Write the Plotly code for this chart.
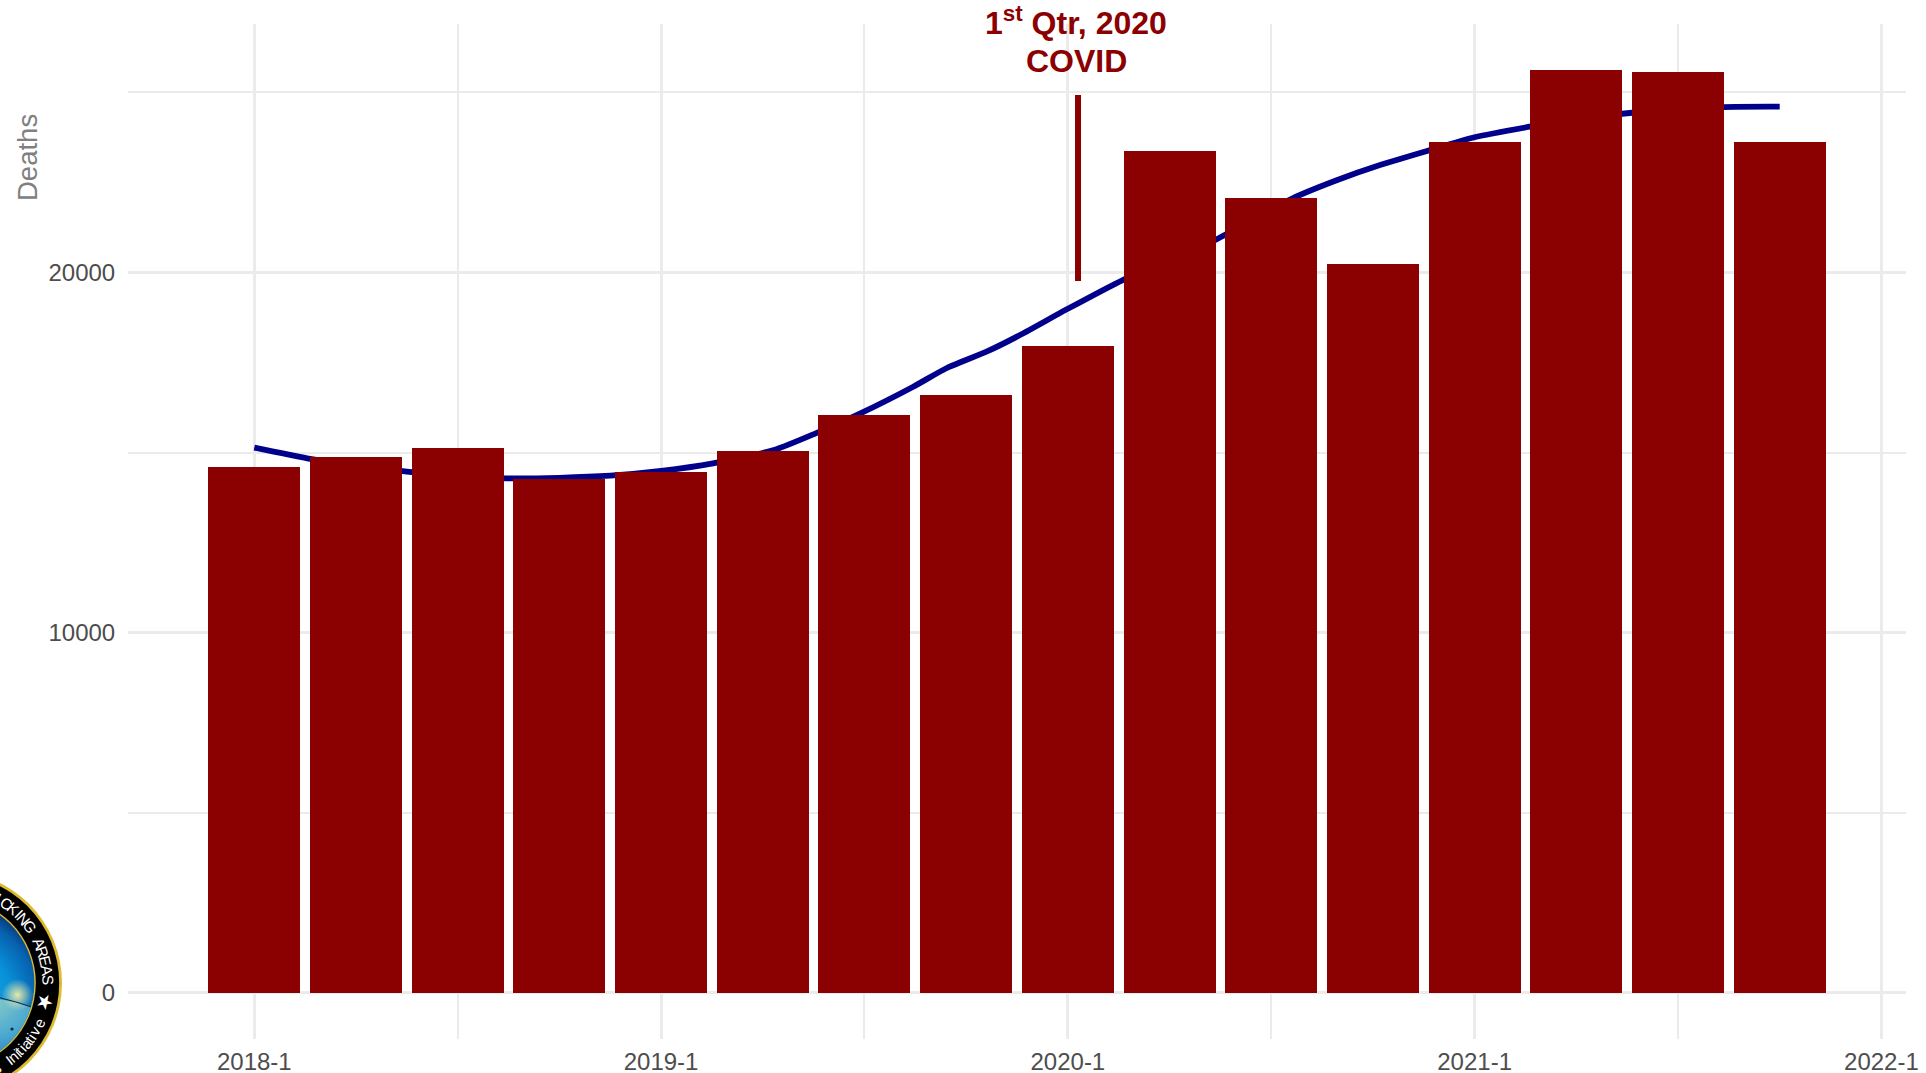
import base64
import math
import plotly.graph_objects as go

quarters = ["2018-1", "2018-2", "2018-3", "2018-4", "2019-1", "2019-2", "2019-3", "2019-4",
            "2020-1", "2020-2", "2020-3", "2020-4", "2021-1", "2021-2", "2021-3", "2021-4"]
deaths = [14610, 14880, 15120, 14270, 14470, 15050, 16040, 16590,
          17950, 23370, 22060, 20230, 23620, 25620, 25560, 23620]
quarter_index = list(range(len(quarters)))

trend_index = [0, 0.52, 1, 1.5, 2, 2.48, 3, 3.5, 4, 4.51, 5.11, 5.52, 5.96, 6.48, 6.81, 7.2,
               7.53, 7.99, 8.54, 9, 9.45, 10.21, 10.65, 11.07, 11.54, 11.98, 12.54, 13, 13.55, 14.45, 15]
trend_deaths = [15135, 14840, 14640, 14470, 14340, 14285, 14300, 14357, 14490, 14700, 15071, 15534,
                16088, 16828, 17347, 17800, 18262, 18976, 19789, 20340, 20900, 22056, 22565, 22980,
                23378, 23739, 24044, 24250, 24432, 24590, 24600]

covid_x = [8.1, 8.1]
covid_y = [19760, 24925]

x_major = [0, 4, 8, 12, 16]
x_major_labels = ["2018-1", "2019-1", "2020-1", "2021-1", "2022-1"]
y_major = [0, 10000, 20000]

W, H = 1926, 1073
L, R, T, B = 128, 1906, 24, 1039
X_RANGE = [-1.242, 16.242]
Y_RANGE = [-1277, 26895]
GRID = "#EBEBEB"
RED = "#8B0000"
FONT = "Liberation Sans"


def xp(px):
    return (px - L) / (R - L)


def yp(py):
    return (B - py) / (B - T)


fig = go.Figure()
fig.add_trace(go.Scatter(x=trend_index, y=trend_deaths, mode="lines",
                         line=dict(color="#00008B", width=5.8, shape="spline", smoothing=0.6),
                         hoverinfo="skip", showlegend=False))
fig.add_trace(go.Scatter(x=covid_x, y=covid_y, mode="lines", line=dict(color=RED, width=6),
                         hoverinfo="skip", showlegend=False))
fig.add_trace(go.Bar(x=quarter_index, y=deaths, width=0.905, marker=dict(color=RED, line=dict(width=0)),
                     xaxis="x2", yaxis="y2", showlegend=False, customdata=quarters))

# Seal in the lower-left corner
CX, CY, RAD = -49.6, 983, 111.6
svg = f'''<svg xmlns="http://www.w3.org/2000/svg" width="240" height="240" viewBox="0 0 240 240">
<defs>
<radialGradient id="sky" cx="0.5" cy="0.62" r="0.62"><stop offset="0" stop-color="#3fb4e8"/>
<stop offset="0.6" stop-color="#0790d8"/><stop offset="0.85" stop-color="#0760ae"/><stop offset="1" stop-color="#08306f"/></radialGradient>
<radialGradient id="sea" gradientUnits="userSpaceOnUse" cx="160" cy="133" r="85"><stop offset="0" stop-color="#8fd0c8"/>
<stop offset="0.5" stop-color="#4aa8d0"/><stop offset="1" stop-color="#0d5aa6"/></radialGradient>
<radialGradient id="glow" gradientUnits="userSpaceOnUse" cx="187" cy="132" r="16"><stop offset="0" stop-color="#e8e8a8"/>
<stop offset="1" stop-color="#e8e8a8" stop-opacity="0"/></radialGradient>
<clipPath id="c"><circle cx="120" cy="120" r="84"/></clipPath>
</defs>
<circle cx="120" cy="120" r="111.6" fill="#DDBB2E"/>
<circle cx="120" cy="120" r="108.8" fill="#000000"/>
<circle cx="120" cy="120" r="85.4" fill="#DDBB2E"/>
<circle cx="120" cy="120" r="84" fill="url(#sky)"/>
<g clip-path="url(#c)">
<path d="M 0 130 Q 120 120 202 144 L 240 240 L 0 240 Z" fill="url(#sea)"/>
<circle cx="187" cy="132" r="16" fill="url(#glow)"/>
<path d="M 60 128 Q 140 122 201 144" fill="none" stroke="#10264a" stroke-width="1"/>
<circle cx="181.6" cy="166" r="1.6" fill="#10264a"/>
</g></svg>'''
logo_src = "data:image/svg+xml;base64," + base64.b64encode(svg.encode()).decode()
images = [dict(source=logo_src, xref="paper", yref="paper", x=xp(CX - 120), y=yp(CY - 120),
               sizex=240 / (R - L), sizey=240 / (B - T), xanchor="left", yanchor="top",
               sizing="stretch", layer="above")]

annotations = []


def seal_letter(ch, ang, r, size, top_arc):
    a = math.radians(ang)
    annotations.append(dict(text=ch, xref="paper", yref="paper", x=xp(CX + r * math.cos(a)),
                            y=yp(CY + r * math.sin(a)), showarrow=False, xanchor="center", yanchor="middle",
                            textangle=ang + 90 if top_arc else ang - 90,
                            font=dict(family=FONT, size=size, color="white")))


for ch, ang in zip("ICKINGAREAS", [-60.5, -55, -50, -45.5, -41, -35.5, -24, -18.5, -13, -7.5, -2]):
    seal_letter(ch, ang, 97.5, 15.5, True)
seal_letter("★", 11, 97, 20, True)
for ch, ang in zip("sInitiative", [61, 53, 49.5, 46.5, 44.5, 42, 38.5, 35.5, 33.5, 29.5, 24.5]):
    seal_letter(ch, ang, 97, 15, False)

annotations += [
    dict(text="<b>1<sup>st</sup> Qtr, 2020</b>", xref="paper", yref="paper", x=xp(1076), y=yp(20.5),
         showarrow=False, xanchor="center", yanchor="middle", font=dict(family=FONT, size=32, color=RED)),
    dict(text="<b>COVID</b>", xref="paper", yref="paper", x=xp(1076), y=yp(61), showarrow=False,
         xanchor="center", yanchor="middle", font=dict(family=FONT, size=32, color=RED)),
    dict(text="Deaths", xref="paper", yref="paper", x=xp(27), y=yp(158), showarrow=False,
         xanchor="center", yanchor="middle", textangle=-90, font=dict(family=FONT, size=27.5, color="#808080")),
]

fig.update_layout(
    width=W, height=H, autosize=False,
    margin=dict(l=L, r=W - R, t=T, b=H - B, pad=0, autoexpand=False),
    paper_bgcolor="white", plot_bgcolor="white", showlegend=False, bargap=0,
    font=dict(family=FONT),
    xaxis=dict(range=X_RANGE, tickmode="array", tickvals=x_major, ticktext=x_major_labels, automargin=False,
               showgrid=True, gridcolor=GRID, gridwidth=2.6, zeroline=False, showline=False,
               ticks="outside", ticklen=1, tickcolor="rgba(0,0,0,0)",
               tickfont=dict(family=FONT, size=24, color="#4D4D4D"),
               minor=dict(tickmode="array", tickvals=[2, 6, 10, 14], showgrid=True, gridcolor=GRID,
                          gridwidth=1.5, ticks="")),
    yaxis=dict(range=Y_RANGE, tickmode="array", tickvals=y_major, ticktext=["0", "10000", "20000"], automargin=False,
               showgrid=True, gridcolor=GRID, gridwidth=2.6, zeroline=False, showline=False,
               ticks="outside", ticklen=7, tickcolor="rgba(0,0,0,0)",
               tickfont=dict(family=FONT, size=24, color="#4D4D4D"),
               minor=dict(tickmode="array", tickvals=[5000, 15000, 25000], showgrid=True, gridcolor=GRID,
                          gridwidth=1.5, ticks="")),
    xaxis2=dict(range=X_RANGE, overlaying="x", visible=False),
    yaxis2=dict(range=Y_RANGE, overlaying="y", visible=False),
    images=images, annotations=annotations,
)

fig.write_html("out.html", config=dict(displayModeBar=False),
               post_script="document.body.style.margin='0';document.body.style.overflow='hidden';")
